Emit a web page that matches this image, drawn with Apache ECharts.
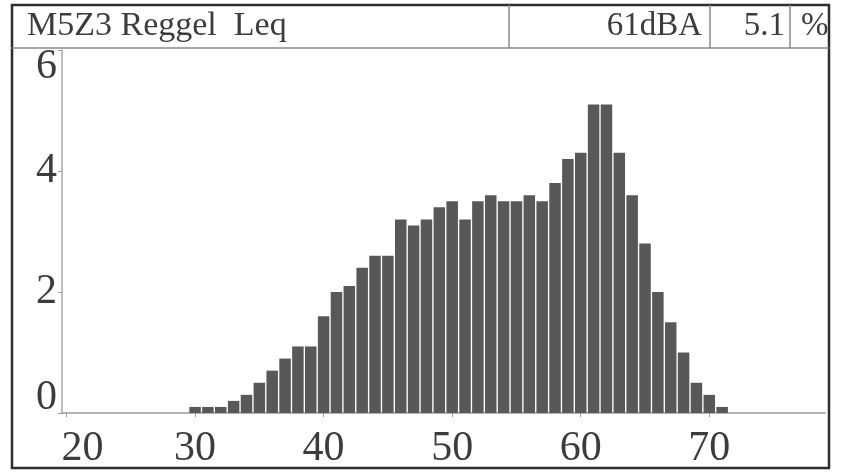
<!DOCTYPE html>
<html>
<head>
<meta charset="utf-8">
<title>M5Z3 Reggel Leq</title>
<script src="https://cdn.jsdelivr.net/npm/echarts@6/dist/echarts.min.js"></script>
<style>
  html, body { margin: 0; padding: 0; background: #fff; }
  #chart { width: 841px; height: 472px; }
</style>
</head>
<body>
<div id="chart"></div>
<script>
// Sound level distribution, morning measurement (1 dB bins, % of time)
const levelsDb = [30, 31, 32, 33, 34, 35, 36, 37, 38, 39,
                  40, 41, 42, 43, 44, 45, 46, 47, 48, 49,
                  50, 51, 52, 53, 54, 55, 56, 57, 58, 59,
                  60, 61, 62, 63, 64, 65, 66, 67, 68, 69,
                  70, 71];
const sharePct = [0.1, 0.1, 0.1, 0.2, 0.3, 0.5, 0.7, 0.9, 1.1, 1.1,
                  1.6, 2.0, 2.1, 2.4, 2.6, 2.6, 3.2, 3.1, 3.2, 3.4,
                  3.5, 3.2, 3.5, 3.6, 3.5, 3.5, 3.6, 3.5, 3.8, 4.2,
                  4.3, 5.1, 5.1, 4.3, 3.6, 2.8, 2.0, 1.5, 1.0, 0.5,
                  0.3, 0.1];
const xTicks = [20, 30, 40, 50, 60, 70];
const yTicks = [0, 2, 4, 6];

const titleText = 'M5Z3 Reggel  Leq';
const leqText = '61dBA';
const peakText = '5.1';
const unitText = '%';

const FONT = '"Liberation Serif", "DejaVu Serif", serif';
const INK = '#3c3c3c';

const chart = echarts.init(document.getElementById('chart'), null, { renderer: 'canvas' });

const option = {
  animation: false,
  backgroundColor: '#ffffff',
  grid: { left: 62, right: 16, top: 50, bottom: 59, containLabel: false },
  xAxis: {
    type: 'value',
    min: 19.65,
    max: 79.0,
    splitLine: { show: false },
    axisLine: { show: true, lineStyle: { color: '#9a9a9a', width: 1.5 } },
    axisTick: { show: true, customValues: xTicks, length: 4, lineStyle: { color: '#9a9a9a' } },
    axisLabel: {
      show: true,
      customValues: xTicks,
      margin: 15,
      fontFamily: FONT,
      fontSize: 42,
      color: INK,
      formatter: v => (v === 20 ? '{first|20}' : '{n|' + v + '}'),
      rich: {
        first: { fontFamily: FONT, fontSize: 42, color: INK, padding: [0, 0, 0, 32] },
        n: { fontFamily: FONT, fontSize: 42, color: INK }
      }
    }
  },
  yAxis: {
    type: 'value',
    min: yTicks[0],
    max: yTicks[yTicks.length - 1],
    interval: 2,
    splitLine: { show: false },
    axisLine: { show: true, lineStyle: { color: '#aaaaaa', width: 1.5 } },
    axisTick: { show: true, length: 4, lineStyle: { color: '#9a9a9a' } },
    axisLabel: {
      show: true,
      margin: 5,
      fontFamily: FONT,
      fontSize: 42,
      color: INK,
      formatter: v => {
        if (v === 6) return '{top|6}';
        if (v === 0) return '{bottom|0}';
        return '{n|' + v + '}';
      },
      rich: {
        top: { fontFamily: FONT, fontSize: 42, color: INK, padding: [34, 0, 0, 0] },
        bottom: { fontFamily: FONT, fontSize: 42, color: INK, padding: [0, 0, 30, 0] },
        n: { fontFamily: FONT, fontSize: 42, color: INK }
      }
    }
  },
  series: [{
    type: 'bar',
    data: levelsDb.map((d, i) => [d, sharePct[i]]),
    barWidth: 11.5,
    itemStyle: { color: '#585858' },
    emphasis: { disabled: true }
  }],
  graphic: [
    // outer frame
    {
      type: 'rect', z: 100,
      shape: { x: 12, y: 5, width: 817, height: 463 },
      style: { fill: 'none', stroke: '#2e2e2e', lineWidth: 2.5 }
    },
    // header bar bottom rule
    {
      type: 'line', z: 100,
      shape: { x1: 12, y1: 48, x2: 829, y2: 48 },
      style: { stroke: '#8a8a8a', lineWidth: 1.5 }
    },
    // header cell separators
    {
      type: 'line', z: 100,
      shape: { x1: 509, y1: 5, x2: 509, y2: 48 },
      style: { stroke: '#8a8a8a', lineWidth: 1.5 }
    },
    {
      type: 'line', z: 100,
      shape: { x1: 710, y1: 5, x2: 710, y2: 48 },
      style: { stroke: '#8a8a8a', lineWidth: 1.5 }
    },
    {
      type: 'line', z: 100,
      shape: { x1: 790, y1: 5, x2: 790, y2: 48 },
      style: { stroke: '#8a8a8a', lineWidth: 1.5 }
    },
    // header texts
    {
      type: 'text', z: 101, x: 27, y: 26,
      style: { text: titleText, font: '34px ' + FONT, fill: INK, align: 'left', verticalAlign: 'middle' }
    },
    {
      type: 'text', z: 101, x: 702, y: 26,
      style: { text: leqText, font: '33px ' + FONT, fill: INK, align: 'right', verticalAlign: 'middle' }
    },
    {
      type: 'text', z: 101, x: 785, y: 26,
      style: { text: peakText, font: '33px ' + FONT, fill: INK, align: 'right', verticalAlign: 'middle' }
    },
    {
      type: 'text', z: 101, x: 801, y: 26,
      style: { text: unitText, font: '33px ' + FONT, fill: INK, align: 'left', verticalAlign: 'middle' }
    }
  ]
};

chart.setOption(option);
</script>
</body>
</html>
